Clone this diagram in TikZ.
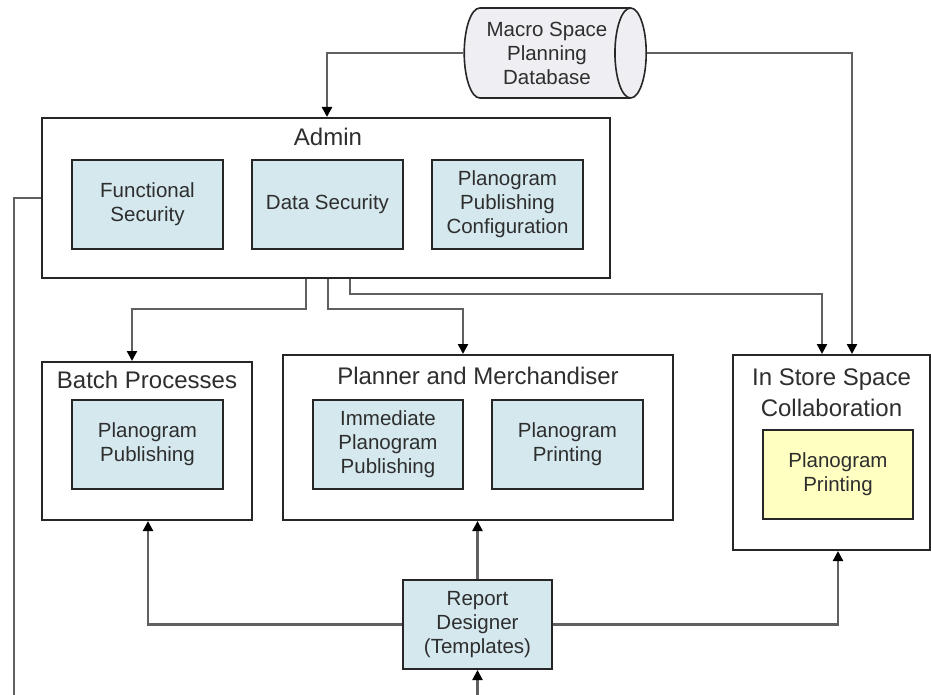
\documentclass[tikz,border=0pt]{standalone}
\usepackage{fontspec}
\setmainfont{Liberation Sans}
\usetikzlibrary{arrows.meta,shapes.geometric}
\definecolor{boxblue}{HTML}{D4E8EE}
\definecolor{boxyellow}{HTML}{FFFFC2}
\definecolor{dbfill}{HTML}{EEEEF3}
\definecolor{txt}{HTML}{2E2E2E}
\definecolor{ln}{HTML}{606060}
\begin{document}
\begin{tikzpicture}[x=1pt,y=-1pt,
  outerbox/.style={draw=black!85,line width=2pt,fill=white,inner sep=0pt},
  innerbox/.style={draw=black!85,line width=2pt,fill=boxblue,inner sep=0pt,
    align=center,text=txt,font=\fontsize{20.5}{24}\selectfont},
  titletext/.style={text=txt,font=\fontsize{24}{31}\selectfont,align=center,inner sep=0pt},
  conn/.style={draw=ln,line width=2.3pt,-{Triangle[length=10pt,width=10pt,color=black]}},
  plainconn/.style={draw=ln,line width=2.3pt}]
\useasboundingbox (0,0) rectangle (931,695);
% database
\node[cylinder,draw=black!85,line width=1.6pt,fill=dbfill,cylinder uses custom fill,
  cylinder body fill=dbfill,cylinder end fill=dbfill,shape aspect=0.5,
  minimum height=182pt,minimum width=90pt,inner sep=0pt,align=center,text=txt,
  font=\fontsize{20.5}{24}\selectfont] (db) at (547,53) {Macro Space\\Planning\\Database};
% admin
\node[outerbox,minimum width=568pt,minimum height=160pt] (admin) at (326,198) {};
\node[titletext] (admintitle) at (328,137) {Admin};
\node[innerbox,minimum width=151pt,minimum height=89pt] (func) at (147.5,204.5) {Functional\\Security};
\node[innerbox,minimum width=151pt,minimum height=89pt] (datasec) at (327.5,204.5) {Data Security};
\node[innerbox,minimum width=151pt,minimum height=89pt] (ppc) at (507.5,204.5) {Planogram\\Publishing\\Configuration};
% batch
\node[outerbox,minimum width=210pt,minimum height=158pt] (batch) at (147,441) {};
\node[titletext] (batchtitle) at (147,380) {Batch Processes};
\node[innerbox,minimum width=151pt,minimum height=89pt] (pp) at (147.5,444.5) {Planogram\\Publishing};
% planner
\node[outerbox,minimum width=390pt,minimum height=165pt] (planner) at (478,437.5) {};
\node[titletext] (plannertitle) at (478,376) {Planner and Merchandiser};
\node[innerbox,minimum width=150pt,minimum height=89pt] (ipp) at (388,444.5) {Immediate\\Planogram\\Publishing};
\node[innerbox,minimum width=151pt,minimum height=89pt] (pprint) at (567.5,444.5) {Planogram\\Printing};
% in store
\node[outerbox,minimum width=197pt,minimum height=195pt] (instore) at (831.5,452.5) {};
\node[titletext] (instoretitle) at (831.5,392.5) {In Store Space\\Collaboration};
\node[innerbox,fill=boxyellow,minimum width=150pt,minimum height=89pt] (isprint) at (838,474.5) {Planogram\\Printing};
% report designer
\node[innerbox,minimum width=149pt,minimum height=89pt] (report) at (477.5,624.5) {Report\\Designer\\(Templates)};
\coordinate (leftend) at (14,695);
\coordinate (bottomend) at (477.5,695);
% connectors
\draw[conn] (db.west) -| ([xshift=1]admin.north);
\draw[conn] (db.east) -| ([xshift=20.5]instore.north);
\draw[plainconn] (admin.west) -| (leftend);
\draw[conn] ([xshift=-20]admin.south) -- ++(0,30) -| ([xshift=-15]batch.north);
\draw[conn] ([xshift=2]admin.south) -- ++(0,30) -| ([xshift=-15]planner.north);
\draw[conn] ([xshift=24]admin.south) -- ++(0,15) -| ([xshift=-9.5]instore.north);
\draw[conn] (report.west) -| ([xshift=1]batch.south);
\draw[conn] (report.north) -- (report.north |- planner.south);
\draw[conn] (report.east) -| ([xshift=6.5]instore.south);
\draw[conn] (bottomend) -- (report.south);
\end{tikzpicture}
\end{document}
